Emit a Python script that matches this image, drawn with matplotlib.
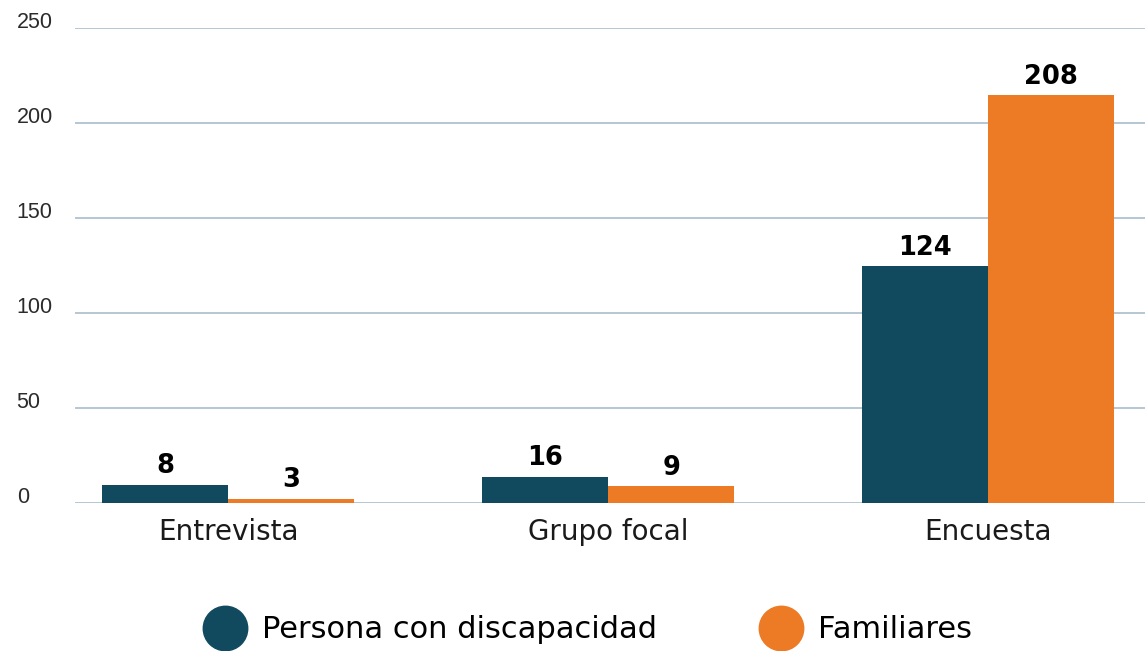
import numpy as np
import matplotlib.pyplot as plt
from matplotlib.lines import Line2D

# data
categories = ['Entrevista', 'Grupo focal', 'Encuesta']
persona_heights = [9.5, 13.7, 124.7]     # bar heights as drawn
familia_heights = [2.1, 8.9, 214.7]
persona_labels = ['8', '16', '124']      # numbers printed above the bars
familia_labels = ['3', '9', '208']
yticks = [0, 50, 100, 150, 200, 250]

teal = '#114a5e'
orange = '#ed7a24'
gridc = '#a9bdcc'

fig = plt.figure(figsize=(11.45, 6.51), dpi=100)
ax = fig.add_axes([75/1145, (651-503)/651, 1070/1145, 475/651])

x = np.arange(len(categories))
w = 0.332
b1 = ax.bar(x - w/2, persona_heights, w, color=teal, zorder=3)
b2 = ax.bar(x + w/2, familia_heights, w, color=orange, zorder=3)

# value labels above the bars
for bars, labs in [(b1, persona_labels), (b2, familia_labels)]:
    for bar, lab in zip(bars, labs):
        ax.annotate(lab, (bar.get_x() + bar.get_width()/2, bar.get_height()),
                    xytext=(0, 4), textcoords='offset points',
                    ha='center', va='bottom', fontsize=18.5,
                    family='DejaVu Sans', weight='bold', color='black')

ax.set_xlim(-0.403, 2.413)
ax.set_ylim(0, 250)
ax.set_yticks(yticks)
ax.set_yticklabels([str(t) for t in yticks], family='Liberation Sans',
                   fontsize=15.5, color='#2b2b2b', ha='left', va='baseline')
ax.tick_params(axis='y', length=0, pad=42)
ax.set_xticks(x)
ax.set_xticklabels(categories, family='DejaVu Sans', fontsize=20, color='#1a1a1a')
ax.tick_params(axis='x', length=0, pad=11)

ax.grid(axis='y', color=gridc, linewidth=1.2, zorder=0)
for s in ax.spines.values():
    s.set_visible(False)

handles = [Line2D([], [], linestyle='none', marker='o', markersize=32,
                  markerfacecolor=c, markeredgecolor=c) for c in (teal, orange)]
fig.legend(handles, ['Persona con discapacidad', 'Familiares'],
           loc='center left', bbox_to_anchor=(203/1145, 21/651), ncol=2,
           frameon=False, borderpad=0, borderaxespad=0,
           prop={'family': 'DejaVu Sans', 'size': 22}, handletextpad=0.47,
           columnspacing=3.35, handlelength=1.45)

fig.savefig('out.png', dpi=100)
